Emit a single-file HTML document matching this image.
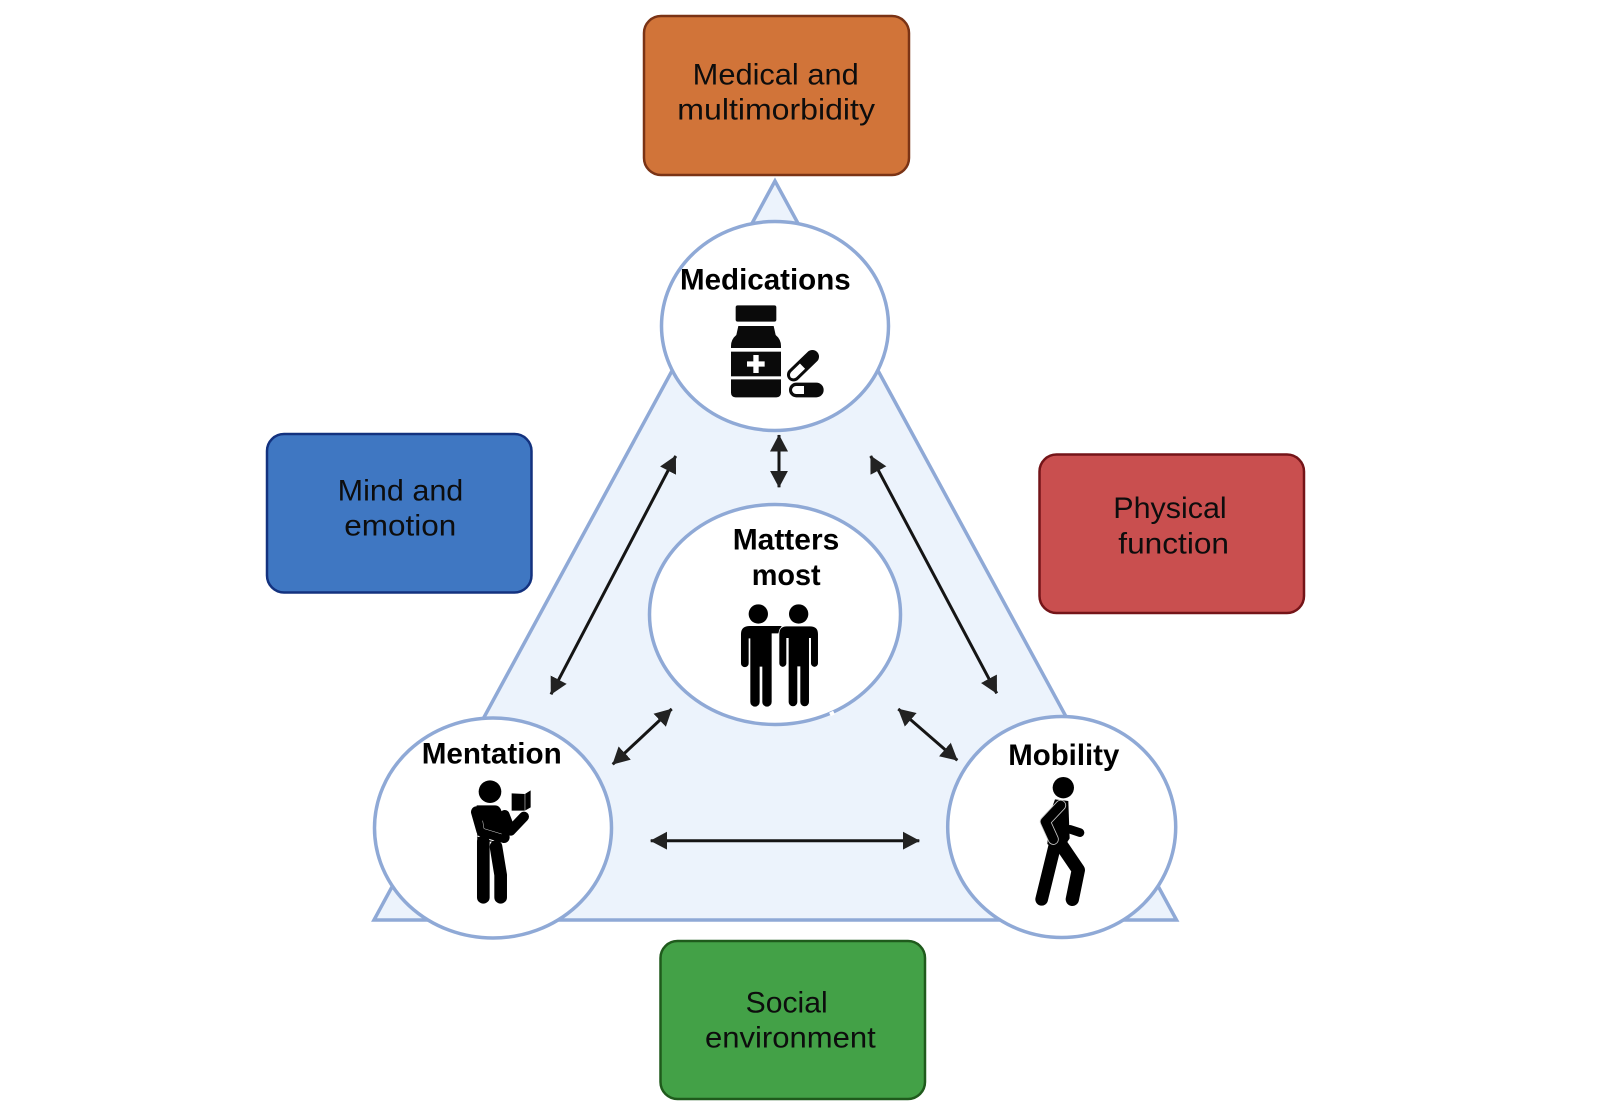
<!DOCTYPE html>
<html>
<head>
<meta charset="utf-8">
<style>
html,body{margin:0;padding:0;background:#fff;width:1600px;height:1120px;overflow:hidden}
svg{display:block}
text{font-family:"Liberation Sans",sans-serif;font-size:30px}
.t{fill:#0d0d0d}
.b{fill:#000;font-weight:bold}
</style>
</head>
<body>
<svg width="1600" height="1120" viewBox="0 0 1600 1120" xmlns="http://www.w3.org/2000/svg">
<defs>
<marker id="h" viewBox="0 0 17 18" markerUnits="userSpaceOnUse" markerWidth="17" markerHeight="18" refX="16.5" refY="9" orient="auto-start-reverse">
<path d="M0 0L17 9L0 18Z" fill="#222"/>
</marker>
</defs>

<polygon points="775,181 374,920 1176.5,920" fill="#ecf3fc" stroke="#8fa9d6" stroke-width="3.5" stroke-linejoin="miter"/>

<rect x="644" y="16" width="265" height="159" rx="17" fill="#d17439" stroke="#7a3315" stroke-width="2.5"/>
<rect x="267" y="434" width="264.5" height="158.5" rx="17" fill="#3f77c2" stroke="#13327f" stroke-width="2.5"/>
<rect x="1039.5" y="454.5" width="264.5" height="158.5" rx="17" fill="#c94f4f" stroke="#741418" stroke-width="2.5"/>
<rect x="660.5" y="941" width="264.5" height="158" rx="17" fill="#43a147" stroke="#1f5a1c" stroke-width="2.5"/>

<text class="t" x="692.7" y="84.3" textLength="166" lengthAdjust="spacingAndGlyphs">Medical and</text>
<text class="t" x="677.3" y="119.3" textLength="197.7" lengthAdjust="spacingAndGlyphs">multimorbidity</text>
<text class="t" x="337.7" y="500.7" textLength="125.6" lengthAdjust="spacingAndGlyphs">Mind and</text>
<text class="t" x="344.3" y="535.7" textLength="112" lengthAdjust="spacingAndGlyphs">emotion</text>
<text class="t" x="1113.3" y="518" textLength="113.4" lengthAdjust="spacingAndGlyphs">Physical</text>
<text class="t" x="1118.3" y="553.3" textLength="110.7" lengthAdjust="spacingAndGlyphs">function</text>
<text class="t" x="745.7" y="1012.3" textLength="82" lengthAdjust="spacingAndGlyphs">Social</text>
<text class="t" x="705" y="1047.3" textLength="170.7" lengthAdjust="spacingAndGlyphs">environment</text>

<ellipse cx="775" cy="326" rx="113.5" ry="104.5" fill="#fff" stroke="#8fa9d6" stroke-width="3.5"/>
<ellipse cx="775" cy="614.5" rx="125.5" ry="110" fill="#fff" stroke="#8fa9d6" stroke-width="3.5"/>
<ellipse cx="493" cy="828" rx="118.5" ry="110" fill="#fff" stroke="#8fa9d6" stroke-width="3.5"/>
<ellipse cx="1061.7" cy="827" rx="114" ry="110.5" fill="#fff" stroke="#8fa9d6" stroke-width="3.5"/>

<text class="b" x="680" y="289.3" textLength="170.7" lengthAdjust="spacingAndGlyphs">Medications</text>
<text class="b" x="732.7" y="549.3" textLength="106.6" lengthAdjust="spacingAndGlyphs">Matters</text>
<text class="b" x="751.7" y="585" textLength="69" lengthAdjust="spacingAndGlyphs">most</text>
<text class="b" x="421.7" y="763.3" textLength="140" lengthAdjust="spacingAndGlyphs">Mentation</text>
<text class="b" x="1008.3" y="765" textLength="111" lengthAdjust="spacingAndGlyphs">Mobility</text>

<g stroke="#151515" stroke-width="3" fill="none">
<line x1="675.7" y1="456" x2="551" y2="694.3" marker-start="url(#h)" marker-end="url(#h)"/>
<line x1="779" y1="435" x2="779" y2="487.3" marker-start="url(#h)" marker-end="url(#h)"/>
<line x1="870.7" y1="456" x2="996.7" y2="693.3" marker-start="url(#h)" marker-end="url(#h)"/>
<line x1="671.7" y1="709" x2="612.7" y2="764.3" marker-start="url(#h)" marker-end="url(#h)"/>
<line x1="898.3" y1="709" x2="957.3" y2="760.3" marker-start="url(#h)" marker-end="url(#h)"/>
<line x1="650.7" y1="840.7" x2="919.3" y2="840.7" marker-start="url(#h)" marker-end="url(#h)"/>
</g>

<!-- medication icon -->
<g transform="translate(725 300) scale(.3333)" fill="#0a0a0a">
<rect x="32" y="16" width="122" height="49" rx="6"/>
<path d="M40 78H146L152 105Q168 118 168 138V144H18V138Q18 118 34 105Z"/>
<rect x="18" y="155" width="150" height="74"/>
<path d="M18 238H168V278Q168 292 154 292H32Q18 292 18 278Z"/>
<path d="M85 165H101V184H119V200H101V219H85V200H66V184H85Z" fill="#fff"/>
<g transform="rotate(-44 234 197)">
<rect x="175" y="177" width="118" height="40" rx="20" fill="#0a0a0a"/>
<path d="M183 197A13 13 0 0 1 196 186H232V208H196A13 13 0 0 1 183 197Z" fill="#fff"/>
</g>
<rect x="192" y="248" width="104" height="44" rx="22" fill="#0a0a0a"/>
<path d="M201 270A13 13 0 0 1 214 258H237V282H214A13 13 0 0 1 201 270Z" fill="#fff"/>
</g>

<!-- two people icon -->
<g transform="translate(640 490) scale(.3333)" fill="#000">
<circle cx="355" cy="372" r="29"/>
<circle cx="476" cy="372" r="29"/>
<path d="M330 408H425L415 430H395V636A14 14 0 0 1 367 636V530H359V636A14 14 0 0 1 331 636V445H326V520A11.5 11.5 0 0 1 303 520V432Q303 408 330 408Z"/>
<path d="M440 408H510Q535 408 535 432V520A11.5 11.5 0 0 1 512 520V445H508V636A14 14 0 0 1 480 636V530H473V636A14 14 0 0 1 445 636V445H440V520A11.5 11.5 0 0 1 417 520V432Q417 408 440 408Z" stroke="#fff" stroke-width="2"/>
</g>

<!-- mentation icon -->
<g transform="translate(360 700) scale(.3333)">
<circle cx="390" cy="275" r="34" fill="#000"/>
<path d="M350 316H405Q420 316 425 335L445 395L432 425H352Z" fill="#000"/>
<polyline points="434,345 452,392 492,350" fill="none" stroke="#000" stroke-width="30" stroke-linecap="round" stroke-linejoin="round"/>
<polyline points="350,336 366,392 432,412" fill="none" stroke="#000" stroke-width="34" stroke-linecap="round" stroke-linejoin="round"/>
<polyline points="368,362 372,386 425,402" fill="none" stroke="#ddd" stroke-width="1.5"/>
<polyline points="352,408 420,428" fill="none" stroke="#fff" stroke-width="3"/>
<polyline points="370,425 370,592" fill="none" stroke="#000" stroke-width="38" stroke-linecap="round"/>
<polyline points="408,440 422,525 422,592" fill="none" stroke="#000" stroke-width="38" stroke-linecap="round" stroke-linejoin="round"/>
<polygon points="455,280 495,282 512,271 512,322 495,332 455,332" fill="#000"/>
<line x1="495" y1="282" x2="495" y2="332" stroke="#fff" stroke-width="1.5"/>
</g>

<!-- mobility icon -->
<g transform="translate(940 700) scale(.3333)">
<circle cx="370" cy="263" r="32" fill="#000"/>
<polygon points="345,298 385,303 389,415 360,460 322,432 330,340" fill="#000"/>
<polyline points="390,388 420,398" fill="none" stroke="#000" stroke-width="26" stroke-linecap="round"/>
<polyline points="345,435 305,598" fill="none" stroke="#000" stroke-width="38" stroke-linecap="round"/>
<polyline points="362,432 415,510 397,598" fill="none" stroke="#000" stroke-width="40" stroke-linecap="round" stroke-linejoin="round"/>
<polyline points="362,316 316,365 340,418" fill="none" stroke="#c8c8c8" stroke-width="33" stroke-linecap="round" stroke-linejoin="round"/>
<polyline points="362,316 316,365 340,418" fill="none" stroke="#000" stroke-width="28" stroke-linecap="round" stroke-linejoin="round"/>
</g>

<line x1="830" y1="714.5" x2="834" y2="712.5" stroke="#fff" stroke-width="4"/>
</svg>
</body>
</html>
